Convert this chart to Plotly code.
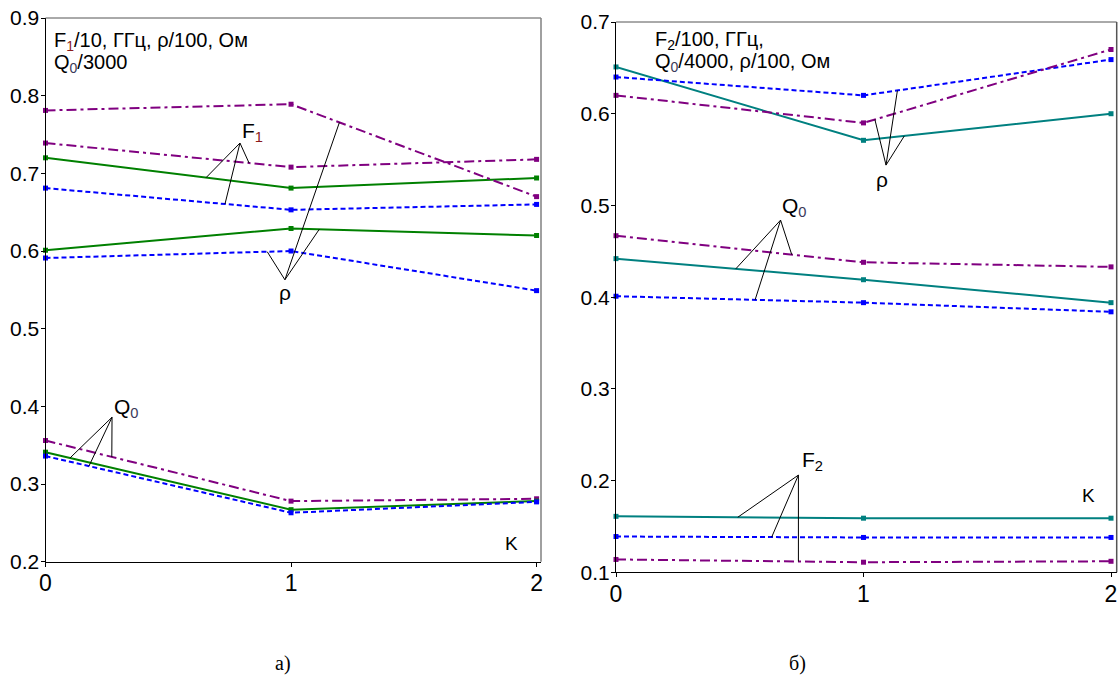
import numpy as np
import plotly.graph_objects as go

# ---------------- data ----------------
K = [0, 1, 2]

# panel a)
a_F1_purple = [0.739, 0.708, 0.718]
a_F1_green = [0.720, 0.681, 0.694]
a_F1_blue = [0.681, 0.653, 0.660]
a_rho_purple = [0.781, 0.789, 0.670]
a_rho_green = [0.601, 0.629, 0.620]
a_rho_blue = [0.591, 0.600, 0.549]
a_Q0_purple = [0.356, 0.278, 0.281]
a_Q0_green = [0.341, 0.267, 0.278]
a_Q0_blue = [0.336, 0.263, 0.277]

# panel б)
b_F2_teal = [0.161, 0.159, 0.159]
b_F2_blue = [0.139, 0.138, 0.138]
b_F2_purple = [0.114, 0.111, 0.112]
b_Q0_purple = [0.467, 0.438, 0.433]
b_Q0_teal = [0.442, 0.419, 0.394]
b_Q0_blue = [0.401, 0.394, 0.384]
b_rho_teal = [0.651, 0.571, 0.600]
b_rho_blue = [0.640, 0.620, 0.659]
b_rho_purple = [0.620, 0.590, 0.670]

x_ticks = [0, 1, 2]
x_ticklabels = ["0", "1", "2"]
a_yticks = [0.2, 0.3, 0.4, 0.5, 0.6, 0.7, 0.8, 0.9]
a_yticklabels = ["0.2", "0.3", "0.4", "0.5", "0.6", "0.7", "0.8", "0.9"]
b_yticks = [0.1, 0.2, 0.3, 0.4, 0.5, 0.6, 0.7]
b_yticklabels = ["0.1", "0.2", "0.3", "0.4", "0.5", "0.6", "0.7"]

# ---------------- styles ----------------
PURPLE = "#800080"
GREEN = "#008000"
TEAL = "#008080"
BLUE = "#0000FF"
DASHDOT = "10px,4px,3px,4px"
SHORTDASH = "5px,3px"
FONT = "Liberation Sans, Arial, sans-serif"

fig = go.Figure()


def series(y, color, dash, xa, ya):
    fig.add_trace(go.Scatter(
        x=K, y=y, mode="lines+markers", xaxis=xa, yaxis=ya,
        line=dict(color=color, width=2, dash=dash),
        marker=dict(symbol="square", size=5, color=color),
        showlegend=False, hoverinfo="skip", cliponaxis=False))


for y, c, d in [(a_F1_purple, PURPLE, DASHDOT), (a_F1_green, GREEN, "solid"), (a_F1_blue, BLUE, SHORTDASH),
                (a_rho_purple, PURPLE, DASHDOT), (a_rho_green, GREEN, "solid"), (a_rho_blue, BLUE, SHORTDASH),
                (a_Q0_purple, PURPLE, DASHDOT), (a_Q0_green, GREEN, "solid"), (a_Q0_blue, BLUE, SHORTDASH)]:
    series(y, c, d, "x", "y")

for y, c, d in [(b_F2_teal, TEAL, "solid"), (b_F2_blue, BLUE, SHORTDASH), (b_F2_purple, PURPLE, DASHDOT),
                (b_Q0_purple, PURPLE, DASHDOT), (b_Q0_teal, TEAL, "solid"), (b_Q0_blue, BLUE, SHORTDASH),
                (b_rho_teal, TEAL, "solid"), (b_rho_blue, BLUE, SHORTDASH), (b_rho_purple, PURPLE, DASHDOT)]:
    series(y, c, d, "x2", "y2")


# leader lines: from label apex to a point on each curve
def leaders(apex, targets, xa, ya):
    for xt, s in targets:
        yt = float(np.interp(xt, K, s))
        fig.add_trace(go.Scatter(
            x=[apex[0], xt], y=[apex[1], yt], mode="lines", xaxis=xa, yaxis=ya,
            line=dict(color="black", width=1), showlegend=False, hoverinfo="skip"))


leaders((0.792, 0.739), [(0.654, a_F1_green), (0.731, a_F1_blue), (0.829, a_F1_purple)], "x", "y")
leaders((0.975, 0.563), [(1.197, a_rho_purple), (1.115, a_rho_green), (0.903, a_rho_blue)], "x", "y")
leaders((0.271, 0.386), [(0.100, a_Q0_green), (0.177, a_Q0_blue), (0.270, a_Q0_purple)], "x", "y")

leaders((1.091, 0.544), [(1.046, b_rho_purple), (1.137, b_rho_blue), (1.165, b_rho_teal)], "x2", "y2")
leaders((0.665, 0.484), [(0.484, b_Q0_teal), (0.562, b_Q0_blue), (0.710, b_Q0_purple)], "x2", "y2")
leaders((0.737, 0.206), [(0.492, b_F2_teal), (0.629, b_F2_blue), (0.737, b_F2_purple)], "x2", "y2")

annotations = []


def label(text, x, y, xr, yr, size=21, font=FONT, xanchor="center"):
    annotations.append(dict(text=text, x=x, y=y, xref=xr, yref=yr, showarrow=False,
                            xanchor=xanchor, yanchor="middle",
                            font=dict(family=font, size=size, color="black")))


SUB1 = "<sub><span style='color:#8B1A1A'>1</span></sub>"
SUB0 = "<sub><span style='color:#3a3a5a'>0</span></sub>"
SUB2 = "<sub>2</sub>"

label("F" + SUB1, 0.845, 0.753, "x", "y")
label("ρ", 0.975, 0.546, "x", "y")
label("Q" + SUB0, 0.33, 0.398, "x", "y")
label("K", 1.898, 0.223, "x", "y", size=19)

label("ρ", 1.075, 0.528, "x2", "y2")
label("Q" + SUB0, 0.72, 0.498, "x2", "y2")
label("F" + SUB2, 0.795, 0.221, "x2", "y2")
label("K", 1.911, 0.184, "x2", "y2", size=19)

# panel header texts
label("F" + SUB1 + "/10, ГГц, ρ/100, Ом", 52 / 1118, 1 - 41 / 677, "paper", "paper", size=20, xanchor="left")
label("Q" + SUB0 + "/3000", 52 / 1118, 1 - 64 / 677, "paper", "paper", size=20, xanchor="left")
label("F" + SUB2 + "/100, ГГц,", 653 / 1118, 1 - 40 / 677, "paper", "paper", size=20, xanchor="left")
label("Q" + SUB0 + "/4000, ρ/100, Ом", 653 / 1118, 1 - 63 / 677, "paper", "paper", size=20, xanchor="left")

# sub-figure captions
label("а)", 283 / 1118, 1 - 663 / 677, "paper", "paper", size=20, font="Liberation Serif, Times New Roman, serif")
label("б)", 797 / 1118, 1 - 663 / 677, "paper", "paper", size=20, font="Liberation Serif, Times New Roman, serif")

axis_common = dict(showgrid=False, zeroline=False, showline=True, linecolor="black", linewidth=1,
                   ticks="outside", ticklen=4, tickcolor="black", tickwidth=1, automargin=False,
                   fixedrange=True)
yfont = dict(family=FONT, size=21, color="black")
xfont = dict(family=FONT, size=23, color="black")

fig.update_layout(
    width=1118, height=677,
    margin=dict(l=0, r=0, t=0, b=0, autoexpand=False),
    paper_bgcolor="white", plot_bgcolor="white",
    showlegend=False,
    annotations=annotations,
    xaxis=dict(domain=[45.5 / 1118, 541 / 1118], range=[0, 2.018], anchor="y", tickfont=xfont,
               tickvals=x_ticks, ticktext=x_ticklabels, ticklabelstandoff=-3, **axis_common),
    yaxis=dict(domain=[1 - 561.7 / 677, 1 - 18 / 677], range=[0.2, 0.9], anchor="x", tickfont=yfont,
               tickvals=a_yticks, ticktext=a_yticklabels, ticklabelstandoff=-3, **axis_common),
    xaxis2=dict(domain=[616 / 1118, 1116.7 / 1118], range=[0, 2.023], anchor="y2", tickfont=xfont,
                tickvals=x_ticks, ticktext=x_ticklabels, ticklabelstandoff=-3, **axis_common),
    yaxis2=dict(domain=[1 - 572.3 / 677, 1 - 22 / 677], range=[0.1, 0.7], anchor="x2", tickfont=yfont,
                tickvals=b_yticks, ticktext=b_yticklabels, ticklabelstandoff=-3, **axis_common),
    shapes=[
        dict(type="line", xref="x domain", yref="y domain", x0=0, x1=1, y0=1, y1=1,
             line=dict(color="#555555", width=1)),
        dict(type="line", xref="x domain", yref="y domain", x0=1, x1=1, y0=0, y1=1,
             line=dict(color="#808080", width=1.5)),
        dict(type="line", xref="x2 domain", yref="y2 domain", x0=0, x1=1, y0=1, y1=1,
             line=dict(color="#555555", width=1)),
        dict(type="line", xref="x2 domain", yref="y2 domain", x0=1, x1=1, y0=0, y1=1,
             line=dict(color="#555555", width=1.5)),
    ],
)

fig.write_html("out.html", config={"displayModeBar": False},
               post_script="document.body.style.margin='0';document.body.style.overflow='hidden';")
